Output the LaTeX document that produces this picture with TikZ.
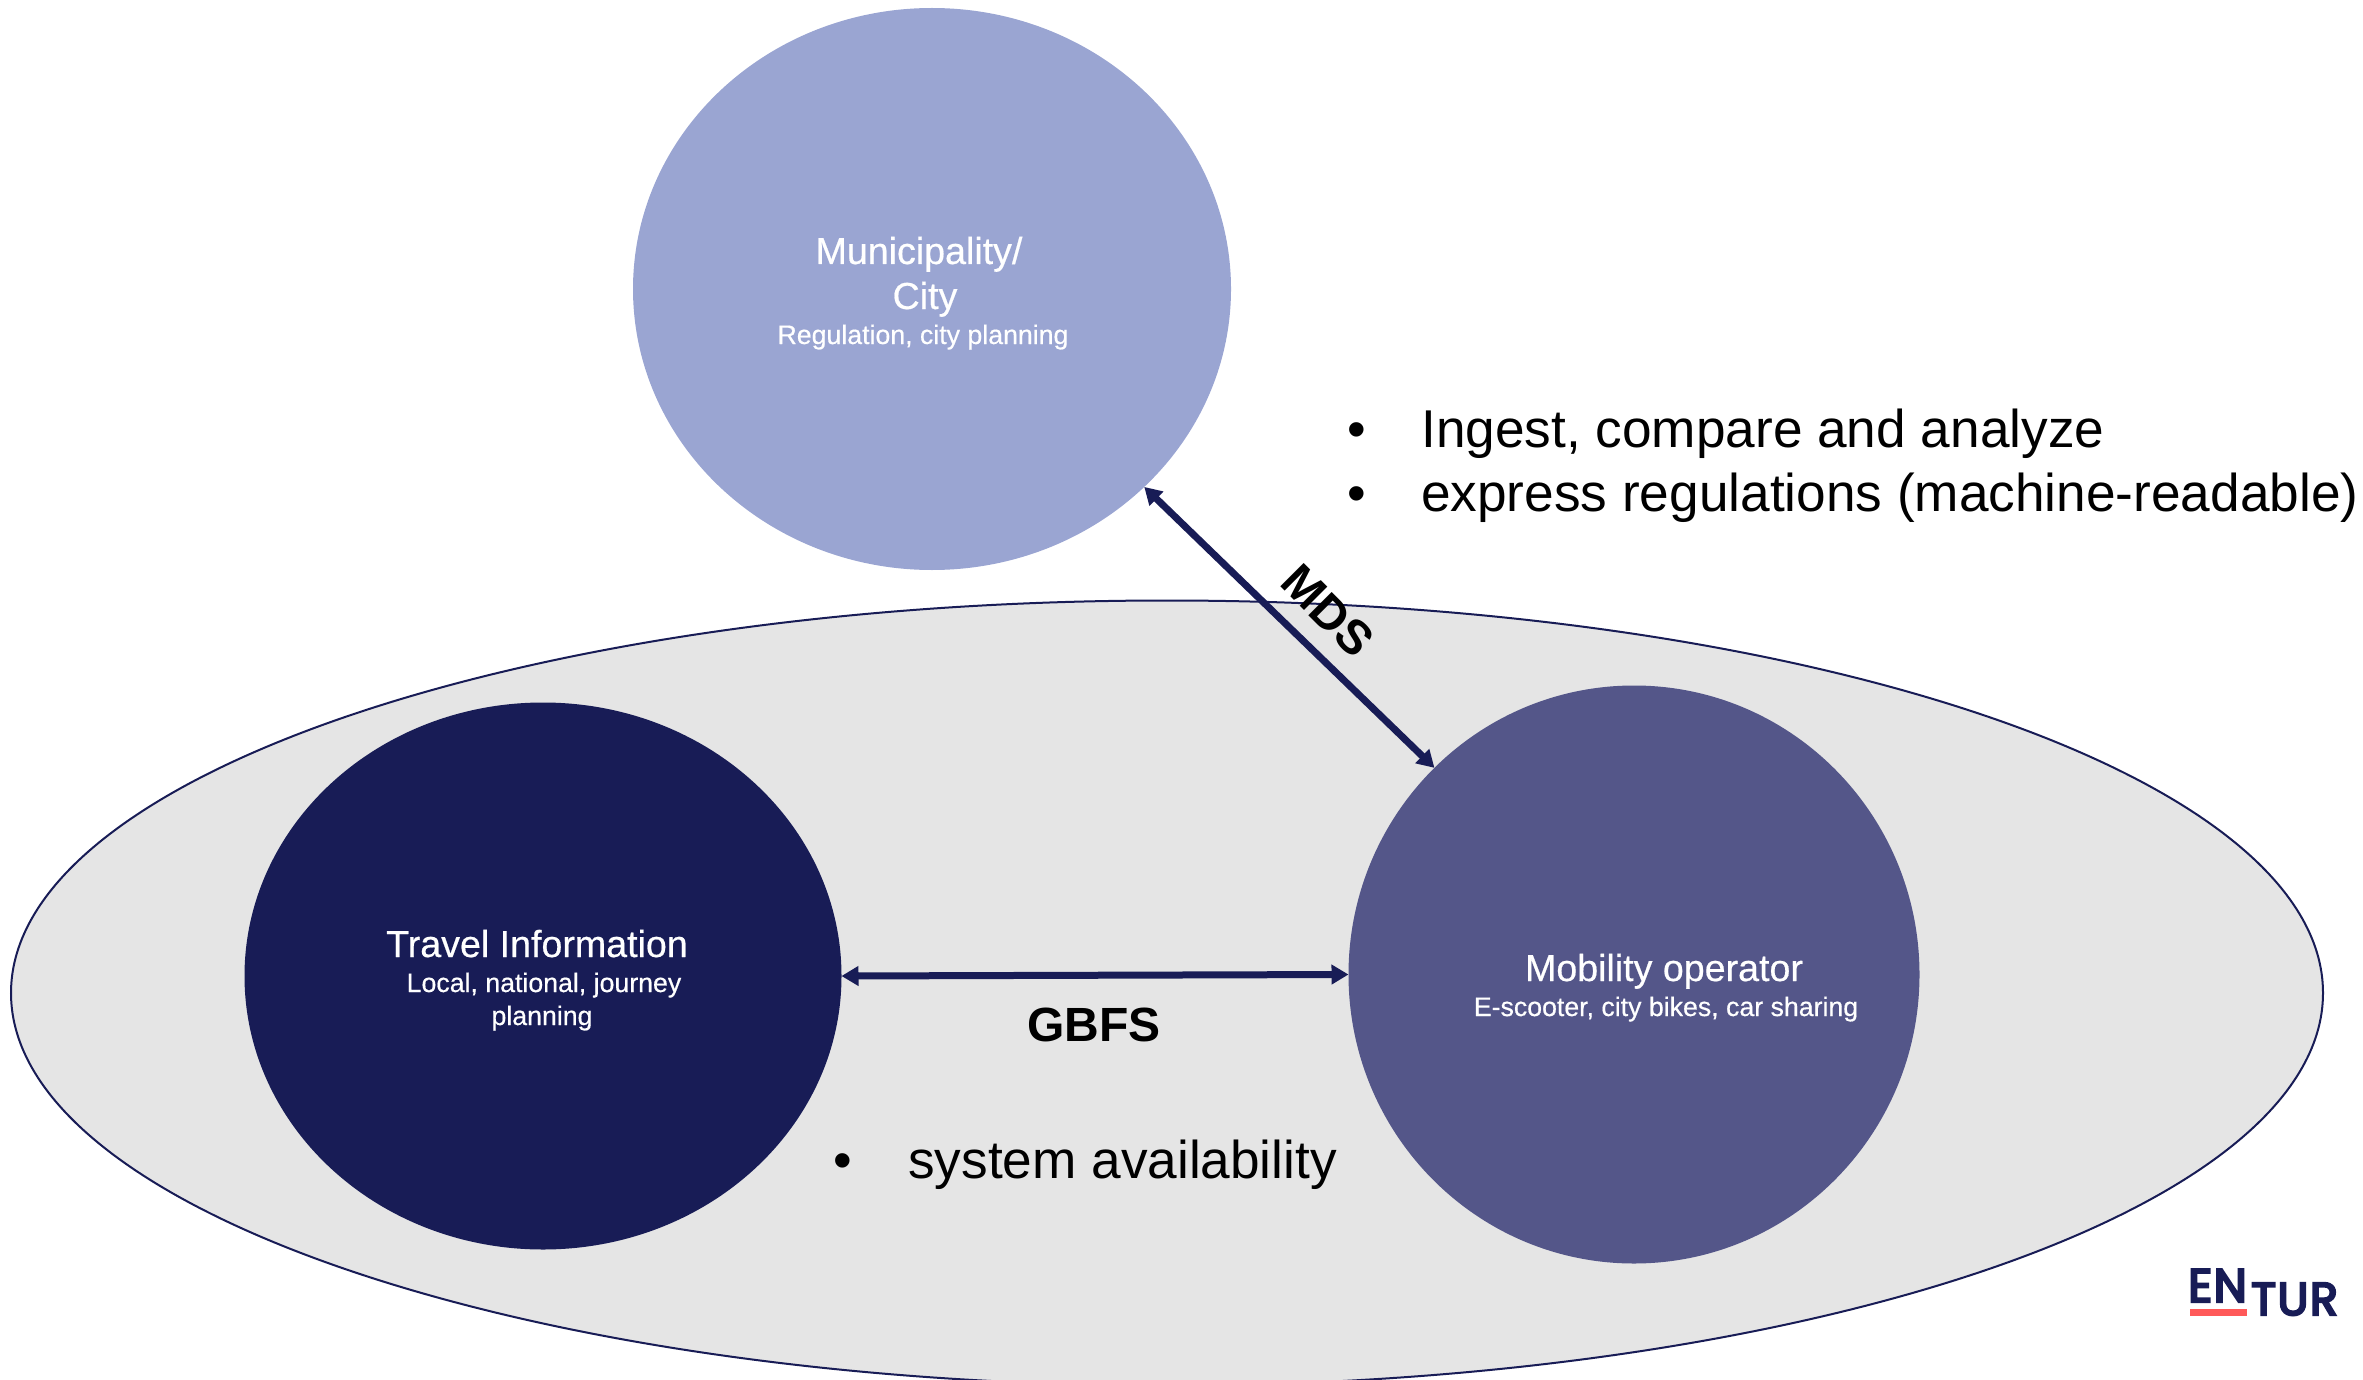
\documentclass[tikz,border=0pt]{standalone}
\usepackage{fontspec}
\setmainfont{Liberation Sans}
\newfontfamily\logofont[FakeBold=5,LetterSpace=3]{Poppins}
\newfontfamily\softbold[FakeBold=0.5]{Liberation Sans}
\usetikzlibrary{shapes.geometric,arrows.meta}
\definecolor{navy}{HTML}{181C56}
\definecolor{midblue}{HTML}{545689}
\definecolor{lightblue}{HTML}{9AA5D2}
\definecolor{panelgray}{HTML}{E5E5E5}
\definecolor{logored}{HTML}{FF5959}
\newcommand{\fs}[1]{\fontsize{#1}{#1}\selectfont}
\tikzset{
  x=1pt,y=-1pt,
  party/.style={ellipse,draw=none,inner sep=0pt,outer sep=0pt},
  title/.style={text=white,font=\softbold\fs{37.6},anchor=base,inner sep=0pt},
  sub/.style={text=white,font=\softbold\fs{26.7},anchor=base,inner sep=0pt},
  bullettext/.style={text=black,font=\fs{53.2},anchor=base west,inner sep=0pt},
  link/.style={draw=navy,line width=7pt,{Triangle[length=17pt,width=19pt]}-{Triangle[length=17pt,width=19pt]},shorten <=0pt,shorten >=0pt},
  proto/.style={text=black,font=\fs{48}\bfseries,inner sep=0pt}
}
\begin{document}
\begin{tikzpicture}
\useasboundingbox (0,0) rectangle (2363,1380);
\begin{scope}
\clip (0,0) rectangle (2363,1380);
\node[party,fill=panelgray,draw=navy,line width=2pt,minimum width=2312pt,minimum height=785pt] (panel) at (1167,993) {};
\end{scope}
\node[party,fill=lightblue,minimum width=598pt,minimum height=562pt] (city) at (932,289) {};
\node[party,fill=navy,minimum width=597pt,minimum height=547pt] (travel) at (543,976) {};
\node[party,fill=midblue,minimum width=571pt,minimum height=578pt] (operator) at (1634,974.5) {};
\node[title] (t1) at (919,264) {Municipality/};
\node[title] (t2) at (925,309) {City};
\node[sub] (t3) at (923,344) {Regulation, city planning};
\node[title] (t4) at (537,957) {Travel Information};
\node[sub] (t5) at (544,992) {Local, national, journey};
\node[sub] (t6) at (542,1025) {planning};
\node[title] (t7) at (1664,981) {Mobility operator};
\node[sub] (t8) at (1666,1016) {E-scooter, city bikes, car sharing};
\draw[link] (travel.east) -- (operator.west);
\draw[link] (city.-43.3) -- (operator.134.6);
\node[proto] (gbfs) at (1094,1025) {GBFS};
\node[proto,rotate=-45] (mds) at (1328,611) {MDS};
\node[bullettext] (b1) at (1347,447.5) {•};
\node[bullettext] (l1) at (1421,447.5) {Ingest, compare and analyze};
\node[bullettext] (b2) at (1347,511.5) {•};
\node[bullettext] (l2) at (1421,511.5) {express regulations (machine-readable)};
\node[bullettext] (b3) at (833,1178) {•};
\node[bullettext] (l3) at (908,1178) {system availability};
\node[anchor=base west,inner sep=0pt,text=navy,font=\logofont\fs{47}] (en) at (2188,1302) {EN};
\node[anchor=base west,inner sep=0pt,text=navy,font=\logofont\fs{46}] (tur) at (2251,1315) {TUR};
\fill[logored] (2190,1309) rectangle (2247,1316);
\end{tikzpicture}
\end{document}
